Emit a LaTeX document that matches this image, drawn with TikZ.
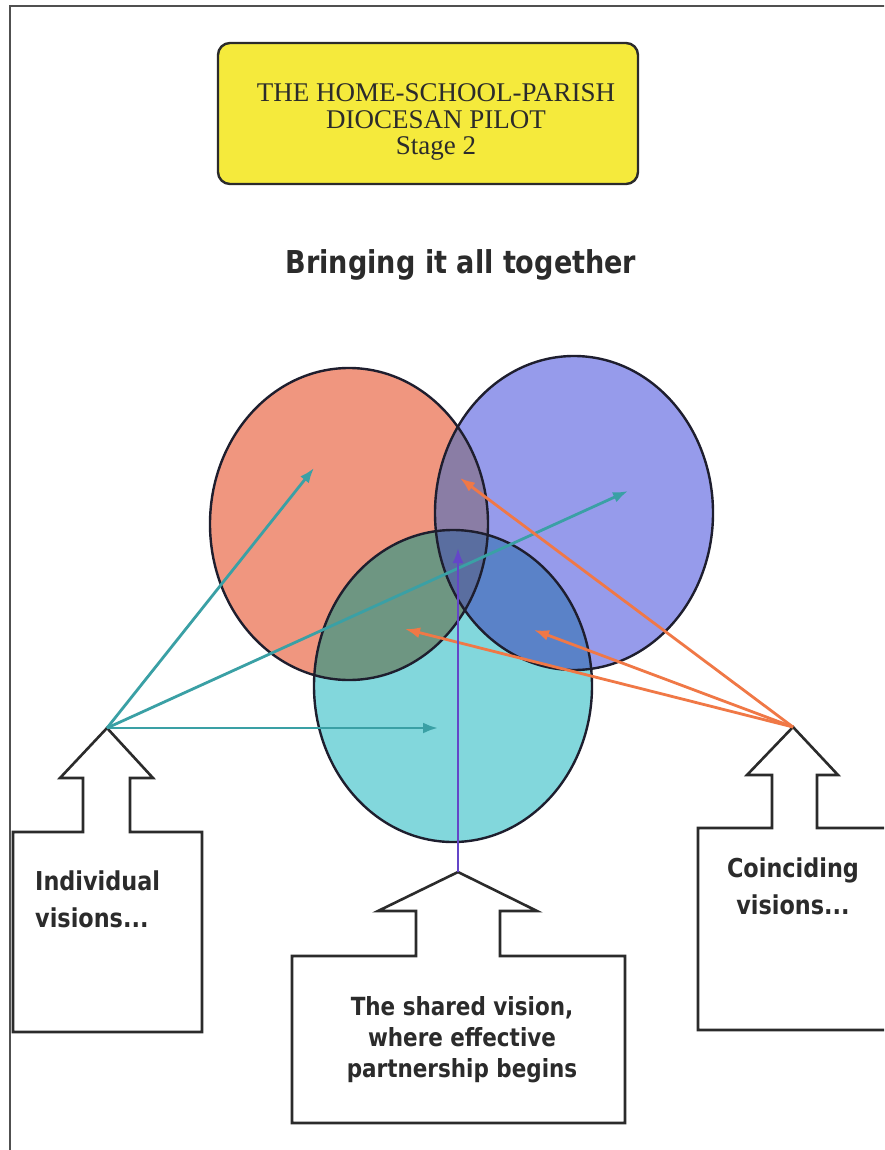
\documentclass[tikz,border=0pt]{standalone}
\usepackage{fontspec}
\setmainfont{Liberation Serif}
\newfontfamily\tah[FakeStretch=0.86]{DejaVu Sans}
\usetikzlibrary{arrows.meta,shapes.geometric}
\definecolor{ink}{HTML}{2B2B2B}
\definecolor{frame}{HTML}{505050}
\definecolor{titlefill}{HTML}{F5EA3C}
\definecolor{redfill}{HTML}{F0967F}
\definecolor{bluefill}{HTML}{969BEB}
\definecolor{cyanfill}{HTML}{82D7DC}
\definecolor{rbfill}{HTML}{8A7DA5}
\definecolor{rcfill}{HTML}{6E9682}
\definecolor{bcfill}{HTML}{5A82C8}
\definecolor{rbcfill}{HTML}{5A6EA0}
\definecolor{circline}{HTML}{1E1E2E}
\definecolor{tealc}{HTML}{3AA0A5}
\definecolor{orangec}{HTML}{F07846}
\definecolor{purplec}{HTML}{6446C8}
\begin{document}
\begin{tikzpicture}[x=1pt,y=-1pt,
  vcircle/.style={ellipse, draw=circline, line width=2.4pt, inner sep=0pt,
    minimum width=278pt, minimum height=312pt},
  callout/.style={draw=ink, line width=2.6pt, fill=white, line join=miter},
  tealarrow/.style={draw=tealc, line width=2.8pt, -{Latex[length=15pt,width=11pt]}},
  orangearrow/.style={draw=orangec, line width=2.8pt, -{Latex[length=15pt,width=11pt]}},
  purplearrow/.style={draw=purplec, line width=2.6pt, -{Latex[length=15pt,width=11pt]}},
  labeltext/.style={text=ink, inner sep=0pt, font=\tah\bfseries\fontsize{26}{37}\selectfont},
]
\clip (0,0) rectangle (884,1150);
\fill[white] (0,0) rectangle (884,1150);
% page frame
\draw[frame, line width=2.6pt] (10,1152) -- (10,6) -- (886,6);

% title
\node[draw=ink, line width=2.4pt, fill=titlefill, rounded corners=12pt,
  minimum width=420pt, minimum height=141pt] (titlebox) at (428,113.5) {};
\node[text=ink, align=center, inner sep=0pt, font=\fontsize{27}{26.5}\selectfont]
  (title) at (436,122) {THE HOME-SCHOOL-PARISH\\DIOCESAN PILOT\\Stage 2};

% subtitle
\node[text=ink, inner sep=0pt, font=\tah\bfseries\fontsize{31.5}{36}\selectfont]
  (subtitle) at (461,265) {Bringing it all together};

% circle fills
\def\redE{(349,524) ellipse [x radius=139, y radius=156]}
\def\blueE{(574,513) ellipse [x radius=139, y radius=157]}
\def\cyanE{(453,686) ellipse [x radius=139, y radius=156]}
\fill[redfill] \redE;
\fill[bluefill] \blueE;
\fill[cyanfill] \cyanE;
\begin{scope}
  \clip \redE;
  \fill[rbfill] \blueE;
  \fill[rcfill] \cyanE;
\end{scope}
\begin{scope}
  \clip \blueE;
  \fill[bcfill] \cyanE;
  \clip \cyanE;
  \fill[rbcfill] \redE;
\end{scope}
% circle outlines
\node[vcircle] (redc) at (349,524) {};
\node[vcircle, minimum height=314pt] (bluec) at (574,513) {};
\node[vcircle] (cyanc) at (453,686) {};

% callouts
\draw[callout] (13,832) -- (83,832) -- (83,778) -- (60,778) -- (107,728)
  -- (153,778) -- (130,778) -- (130,832) -- (202,832) -- (202,1032)
  -- (13,1032) -- cycle;
\draw[callout] (698,828) -- (772,828) -- (772,775) -- (747,775) -- (793,727)
  -- (838,775) -- (817,775) -- (817,828) -- (892,828) -- (892,1030)
  -- (698,1030) -- cycle;
\draw[callout] (292,956) -- (416,956) -- (416,911) -- (378,911) -- (458,872)
  -- (537,911) -- (500,911) -- (500,956) -- (625,956) -- (625,1123)
  -- (292,1123) -- cycle;

\coordinate (Ltip) at (107,728);
\coordinate (Rtip) at (793,727);
\coordinate (Btip) at (458,872);
\coordinate (tRed) at (314,468);
\coordinate (tBlue) at (628,491);
\coordinate (tCyan) at (438,728);
\coordinate (oRB) at (460,478);
\coordinate (oRC) at (405,629);
\coordinate (oBC) at (534,630);
\coordinate (pC) at (458,548);

% arrows
\draw[tealarrow] (Ltip) -- (tRed);
\draw[tealarrow] (Ltip) -- (tBlue);
\draw[tealarrow] (Ltip) -- (tCyan);
\draw[orangearrow] (Rtip) -- (oRB);
\draw[orangearrow] (Rtip) -- (oRC);
\draw[orangearrow] (Rtip) -- (oBC);
\draw[purplearrow] (Btip) -- (pC);

% labels
\node[labeltext, align=left, anchor=west] (indiv) at (35,899) {Individual\\visions...};
\node[labeltext, align=center] (coinc) at (793,886.5) {Coinciding\\visions...};
\node[labeltext, align=center, font=\tah\bfseries\fontsize{25}{31}\selectfont]
  (shared) at (462,1040) {The shared vision,\\where effective\\partnership begins};
\end{tikzpicture}
\end{document}
